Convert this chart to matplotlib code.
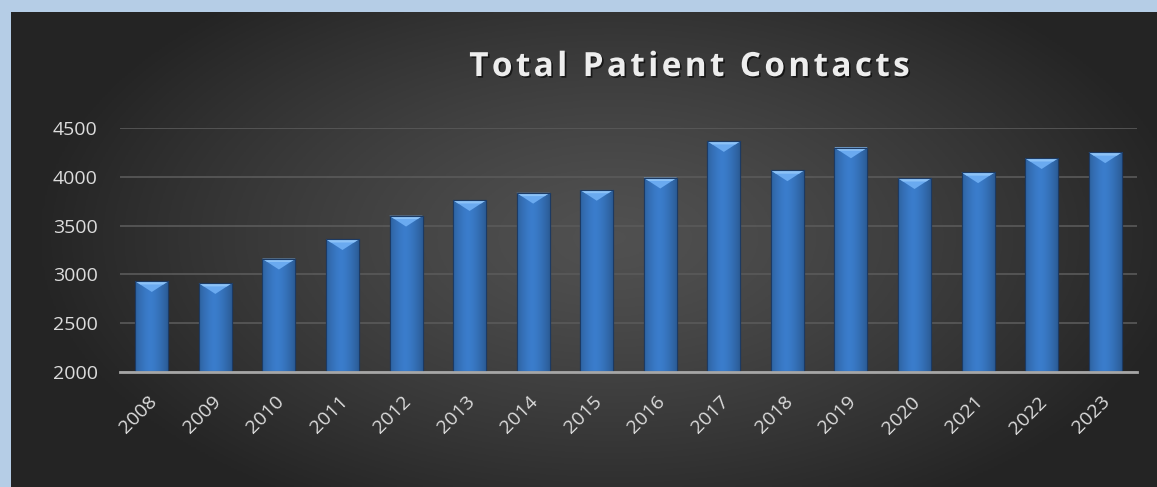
import numpy as np
import matplotlib.pyplot as plt
import matplotlib.patheffects as pe
import matplotlib.transforms as mtransforms
from matplotlib.patches import Polygon

# dados
anos = ['2008', '2009', '2010', '2011', '2012', '2013', '2014', '2015',
        '2016', '2017', '2018', '2019', '2020', '2021', '2022', '2023']
contatos = [2930, 2910, 3160, 3360, 3600, 3760, 3835, 3865,
            3990, 4365, 4065, 4300, 3985, 4045, 4190, 4250]
y_ticks = [2000, 2500, 3000, 3500, 4000, 4500]
titulo = 'Total Patient Contacts'

W, H = 1157, 487
fig = plt.figure(figsize=(W / 100, H / 100), dpi=100)
fig.patch.set_facecolor('#b5cde6')

# fundo escuro com gradiente radial
bg = fig.add_axes([11 / W, 0, 1 - 11 / W, 1 - 12 / H])
gx, gy = np.meshgrid(np.linspace(-1, 1, 400), np.linspace(-1, 1, 200))
r = np.sqrt(((gx - 0.05) / 1.0) ** 2 + ((gy + 0.05) / 1.3) ** 2)
r = np.clip(r, 0, 1)
val = 0.315 - 0.17 * r ** 1.3
bg.imshow(np.dstack([val, val, val]), aspect='auto', extent=[0, 1, 0, 1])
bg.set_axis_off()

ax = fig.add_axes([120 / W, (H - 372) / H, (1137 - 120) / W, (372 - 128) / H])
ax.set_facecolor('none')
x = np.arange(len(anos))
barras = ax.bar(x, contatos, width=0.52, color='#3b7dd0',
                edgecolor='#1c3a63', linewidth=0.8, zorder=3)

grad = np.linspace(0, 1, 50)
perfil = 1 - 0.35 * np.abs(grad - 0.45) ** 1.5 * 2
cores = np.zeros((1, 50, 3))
cores[0, :, 0] = 0.23 * perfil
cores[0, :, 1] = 0.49 * perfil
cores[0, :, 2] = 0.80 * perfil
bevel = 110
for b in barras:
    bx, by, bw, bh = b.get_x(), b.get_y(), b.get_width(), b.get_height()
    top = by + bh
    im = ax.imshow(cores, aspect='auto', extent=[bx, bx + bw, 2000, top],
                   zorder=3.5, interpolation='bilinear')
    im.set_clip_path(b)
    tri = Polygon([[bx, top], [bx + bw, top], [bx + bw / 2, top - bevel]],
                  closed=True, facecolor='#6aaaf0', edgecolor='none', zorder=4)
    ax.add_patch(tri)
    faixa = Polygon([[bx, top], [bx + bw, top], [bx + bw * 0.85, top - bevel * 0.3],
                     [bx + bw * 0.15, top - bevel * 0.3]],
                    closed=True, facecolor='#8cc2f7', edgecolor='none', zorder=4.1)
    ax.add_patch(faixa)
    ax.add_patch(Polygon([[bx, by], [bx + bw, by], [bx + bw, top], [bx, top]],
                         closed=True, facecolor='none', edgecolor='#1c3a63',
                         linewidth=0.8, zorder=4.2))

ax.set_xlim(-0.5, len(anos) - 0.5)
ax.set_ylim(2000, 4500)
ax.set_yticks(y_ticks)
ax.set_yticklabels([str(v) for v in y_ticks], family='Open Sans')
ax.set_xticks(x)
ax.set_xticklabels(anos, rotation=45, ha='right', rotation_mode='anchor',
                   family='Open Sans')
ax.tick_params(axis='both', length=0, colors='#dcdcdc', labelsize=14)
ax.tick_params(axis='y', pad=16)
ax.tick_params(axis='x', pad=15)
desloc = mtransforms.ScaledTranslation(-4 / 100, 0, fig.dpi_scale_trans)
for lbl in ax.get_xticklabels():
    lbl.set_transform(lbl.get_transform() + desloc)
ax.yaxis.grid(True, color='#5a5a5a', linewidth=1.2, zorder=0)
ax.set_axisbelow(True)
for s in ['top', 'right', 'left']:
    ax.spines[s].set_visible(False)
ax.spines['bottom'].set_color('#a6a6a6')
ax.spines['bottom'].set_linewidth(2)
ax.spines['bottom'].set_zorder(5)

# título com sombra e espaçamento entre letras
titulo_esp = '\u200a'.join(titulo)
fig.text(690 / W, 1 - 76 / H, titulo_esp, ha='center', va='baseline',
         fontsize=24, fontweight='bold', color='#ededed',
         family=['Open Sans', 'DejaVu Sans'],
         path_effects=[pe.SimplePatchShadow(offset=(1.2, -1.2), shadow_rgbFace='black',
                                            alpha=0.6), pe.Normal()])

fig.savefig('out.png', dpi=100, facecolor=fig.get_facecolor())
